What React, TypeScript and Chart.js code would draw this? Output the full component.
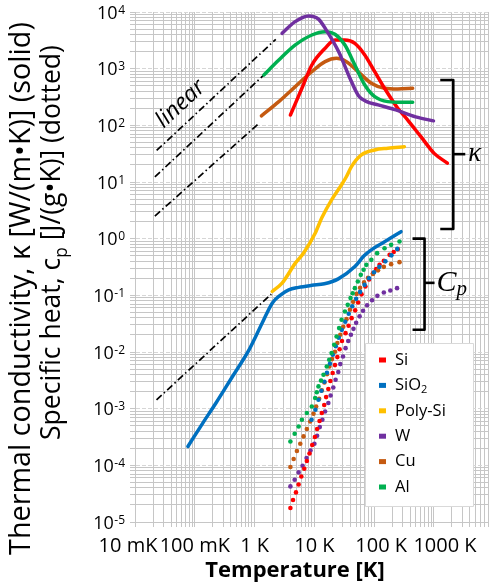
import { useEffect, useRef } from 'react';
import { Chart, registerables } from 'chart.js';

Chart.register(...registerables);

// ---------------- thermal conductivity κ [W/(m·K)] (solid lines) ----------------
const siKT = [3.97, 6.18, 9.06, 15.1, 22.1, 32.4, 47.5, 69.6, 102, 149, 248, 364, 604, 1007, 1675];
const siKV = [152, 451, 1160, 2290, 3200, 3200, 2800, 1750, 885, 451, 200, 124, 63, 32, 21.5];

const sio2KT = [0.0766, 0.136, 0.226, 0.427, 0.807, 1.34, 1.97, 2.74, 3.72, 5.45, 9.06, 14.7, 25.1, 47.5, 67.7, 89.5, 149, 281];
const sio2KV = [2.15e-4, 5.57e-4, 1.26e-3, 3.7e-3, 0.0109, 0.0324, 0.0728, 0.102, 0.125, 0.138, 0.15, 0.16, 0.195, 0.322, 0.498, 0.634, 0.879, 1.33];

const polyKT = [1.97, 2.88, 4.8, 6.6, 10.3, 13.3, 19.4, 28.5, 34.4, 41.7, 61, 102, 169, 320];
const polyKV = [0.117, 0.164, 0.37, 0.56, 1.25, 2.33, 4.83, 8.93, 12.5, 18.7, 30, 36.8, 39.4, 42];

const wKT = [2.88, 4.7, 8.0, 11.7, 16, 25.6, 40.5, 55, 75, 116, 230, 493, 981];
const wKV = [4200, 6700, 8500, 7500, 4700, 1970, 631, 330, 262, 229, 187, 141, 120];

const cuKT = [1.3, 2.54, 4.8, 9.06, 15.1, 23.5, 34.4, 53.8, 89.5, 149, 248, 440];
const cuKV = [147, 262, 482, 885, 1330, 1520, 1330, 885, 553, 451, 438, 451];

const alKT = [1.43, 2.54, 4.8, 9.06, 15.1, 22.1, 32.4, 47.5, 69.6, 102, 169, 281, 440];
const alKV = [775, 1420, 2620, 3930, 4500, 4040, 2620, 1160, 516, 321, 262, 255, 255];

// ---------------- specific heat c_p [J/(g·K)] (dotted) ----------------
const siCT = [3.97, 4.39, 4.92, 5.45, 6.04, 6.77, 7.48, 8.29, 9.2, 10.2, 11.1, 12.2, 13.3, 14.6, 15.7, 17.1, 18.5, 20.2, 22.1, 24.2, 26.4, 28.9, 33.2, 37.3, 41.9, 48.1, 53.8, 61.5, 71.3, 82, 95.5, 108, 123, 145, 181, 212, 248];
const siCV = [1.77e-5, 2.44e-5, 3.33e-5, 4.6e-5, 6.37e-5, 8.71e-5, 1.19e-4, 1.62e-4, 2.28e-4, 3.16e-4, 4.37e-4, 6.04e-4, 8.36e-4, 1.16e-3, 1.6e-3, 2.22e-3, 3.07e-3, 4.25e-3, 5.87e-3, 8.13e-3, 0.0112, 0.0156, 0.0215, 0.029, 0.0396, 0.0543, 0.0746, 0.104, 0.143, 0.191, 0.246, 0.29, 0.345, 0.406, 0.518, 0.58, 0.653];

const sio2CT = [8.96, 10.4, 11.7, 13.1, 14.7, 16.2, 18.2, 20.3, 22.8, 25.6, 28.7, 32.8, 37.5, 42.9, 49.9, 58.1, 69, 82, 99.3, 122, 154, 194, 243];
const sio2CV = [6.37e-4, 9.57e-4, 1.44e-3, 2.07e-3, 2.98e-3, 4.3e-3, 6.19e-3, 8.93e-3, 0.0126, 0.0178, 0.0246, 0.0341, 0.0472, 0.064, 0.0867, 0.115, 0.153, 0.2, 0.255, 0.318, 0.398, 0.508, 0.66];

const wCT = [3.97, 4.68, 5.45, 6.35, 7.4, 8.61, 10.0, 11.1, 12.3, 13.6, 15.1, 17.1, 18.7, 20.7, 22.6, 25.1, 27.1, 30.1, 33.2, 36.8, 40.8, 45, 49.9, 57, 65.2, 76, 92, 113, 145, 186, 241];
const wCV = [4.25e-5, 5.57e-5, 7.5e-5, 9.84e-5, 1.35e-4, 1.83e-4, 2.4e-4, 3.33e-4, 4.73e-4, 6.37e-4, 8.93e-4, 1.26e-3, 1.71e-3, 2.37e-3, 3.24e-3, 4.43e-3, 6.12e-3, 8.34e-3, 0.0117, 0.0156, 0.0201, 0.0256, 0.0327, 0.0426, 0.0533, 0.0667, 0.0817, 0.098, 0.112, 0.122, 0.134];

const cuCT = [3.97, 4.5, 5.1, 5.81, 6.59, 7.48, 8.51, 9.66, 10.7, 12.0, 13.3, 14.7, 16.3, 17.8, 19.7, 22.1, 24.2, 27.1, 30.4, 34.4, 39.3, 44.5, 50.8, 58.1, 67.7, 78.9, 95.5, 116, 145, 192, 265];
const cuCV = [9.33e-5, 1.29e-4, 1.79e-4, 2.4e-4, 3.24e-4, 4.37e-4, 5.94e-4, 8.13e-4, 1.09e-3, 1.5e-3, 2.1e-3, 2.9e-3, 4.07e-3, 5.55e-3, 7.5e-3, 0.0101, 0.0144, 0.0201, 0.0278, 0.038, 0.0555, 0.0767, 0.106, 0.136, 0.169, 0.204, 0.239, 0.276, 0.318, 0.355, 0.385];

const alCT = [3.97, 4.68, 5.45, 6.18, 7.48, 9.06, 10.3, 10.97, 11.7, 12.9, 14.2, 16.1, 17.7, 19.4, 21.4, 23.5, 25.9, 28.5, 32.4, 36.1, 40.2, 43.7, 47.5, 53.2, 59.7, 66.5, 73.9, 89.5, 112, 149, 192, 265];
const alCV = [2.64e-4, 3.6e-4, 4.85e-4, 6.37e-4, 8.36e-4, 1.09e-3, 1.54e-3, 1.95e-3, 2.47e-3, 3.13e-3, 3.97e-3, 5.55e-3, 7.28e-3, 9.57e-3, 0.0134, 0.0188, 0.0264, 0.037, 0.0518, 0.0679, 0.0893, 0.109, 0.134, 0.175, 0.23, 0.282, 0.345, 0.423, 0.555, 0.679, 0.778, 0.889];

// ---------------- "linear" guide lines (dash-dot) ----------------
const lin1T = [0.023, 2.26];
const lin1V = [36, 3300];
const lin2T = [0.0215, 1.43];
const lin2V = [12.3, 775];
const lin3T = [0.0215, 1.2];
const lin3V = [2.5, 110];
const lin4T = [0.0229, 1.9];
const lin4V = [1.43e-3, 0.105];

// ---------------- axes / labels ----------------
const xTickValues = [0.01, 0.1, 1, 10, 100, 1000];
const xTickLabels = ['10 mK', '100 mK', '1 K', '10 K', '100 K', '1000 K'];
const xLabelShift = [-7, 0, 0, 0, 7, 11];
const yTickExponents = [-5, -4, -3, -2, -1, 0, 1, 2, 3, 4];

const legendNames = ['Si', 'SiO2', 'Poly-Si', 'W', 'Cu', 'Al'];
const RED = '#ff0000';
const BLUE = '#0070c0';
const YELLOW = '#ffc000';
const PURPLE = '#7030a0';
const BROWN = '#c55a11';
const GREEN = '#00b050';
const legendColors = [RED, BLUE, YELLOW, PURPLE, BROWN, GREEN];

const GRID = '#c6c6c6';
const GRID_MAJOR = '#d6d6d6';
const FONT = '"Open Sans", "DejaVu Sans", sans-serif';
const SERIF = '"Liberation Serif", "DejaVu Serif", serif';

const pts = (T: number[], V: number[]) => T.map((t, i) => ({ x: t, y: V[i] }));

const isDecade = (v: number) => {
  const l = Math.log10(v);
  return Math.abs(l - Math.round(l)) < 1e-9;
};

const xGrid: number[] = [];
for (let e = -2; e <= 3; e++) for (let m = 1; m <= 9; m++) if (m * 10 ** e <= 8000) xGrid.push(m * 10 ** e);
const yGrid: number[] = [];
for (let e = -5; e <= 3; e++) for (let m = 1; m <= 9; m++) yGrid.push(m * 10 ** e);
yGrid.push(1e4);

const solid = (T: number[], V: number[], color: string) => ({
  data: pts(T, V),
  borderColor: color,
  backgroundColor: color,
  borderWidth: 3.5,
  pointRadius: 0,
  cubicInterpolationMode: 'monotone',
  borderCapStyle: 'round',
  borderJoinStyle: 'round',
});
const dotted = (T: number[], V: number[], color: string) => ({
  data: pts(T, V),
  showLine: false,
  borderColor: color,
  backgroundColor: color,
  pointBackgroundColor: color,
  pointBorderWidth: 0,
  pointRadius: 2.3,
});
const dashdot = (T: number[], V: number[]) => ({
  data: pts(T, V),
  borderColor: '#000',
  borderWidth: 1.7,
  borderDash: [7, 3, 1.5, 3],
  pointRadius: 0,
});

type Seg = { t: string; size: number; dy?: number; style?: string; family?: string };
const segFont = (s: Seg) => `${s.style || ''} ${s.size}px ${s.family || FONT}`;
function richWidth(ctx: CanvasRenderingContext2D, segs: Seg[]) {
  let w = 0;
  for (const s of segs) {
    ctx.font = segFont(s);
    w += ctx.measureText(s.t).width;
  }
  return w;
}
function drawRich(ctx: CanvasRenderingContext2D, segs: Seg[], x: number, y: number, align: 'left' | 'center' | 'right') {
  const w = richWidth(ctx, segs);
  let cx = align === 'center' ? x - w / 2 : align === 'right' ? x - w : x;
  ctx.textAlign = 'left';
  for (const s of segs) {
    ctx.font = segFont(s);
    ctx.fillText(s.t, cx, y + (s.dy || 0));
    cx += ctx.measureText(s.t).width;
  }
}
// scale a rich text so that it spans the requested length
function fitSegs(ctx: CanvasRenderingContext2D, segs: Seg[], target: number): Seg[] {
  const w = richWidth(ctx, segs);
  const f = target / w;
  return segs.map((s) => ({ ...s, size: s.size * f, dy: (s.dy || 0) * f }));
}

const decor = {
  id: 'decor',
  afterDatasetsDraw(chart: any) {
    const { ctx, chartArea, scales } = chart;
    const x = scales.x;
    const y = scales.y;
    ctx.save();
    ctx.fillStyle = '#000';
    ctx.strokeStyle = '#000';

    // brackets
    const bracket = (xv: number, top: number, bot: number, mid: number, hook: number, tip: number) => {
      const px = x.getPixelForValue(xv);
      const t = y.getPixelForValue(top);
      const b = y.getPixelForValue(bot);
      const m = y.getPixelForValue(mid);
      ctx.lineWidth = 2.6;
      ctx.lineJoin = 'round';
      ctx.lineCap = 'butt';
      ctx.beginPath();
      ctx.moveTo(px - hook, t);
      ctx.lineTo(px, t);
      ctx.lineTo(px, b);
      ctx.lineTo(px - hook, b);
      ctx.stroke();
      ctx.beginPath();
      ctx.moveTo(px, m);
      ctx.lineTo(px + tip, m);
      ctx.stroke();
      return { px, m };
    };
    const k = bracket(2100, 630, 1.48, 31, 13, 12);
    ctx.textBaseline = 'middle';
    drawRich(ctx, [{ t: 'κ', size: 27, style: 'italic', family: SERIF }], k.px + 15, k.m, 'left');
    const c = bracket(695, 1.0, 0.0247, 0.166, 12, 10);
    drawRich(ctx, [
      { t: 'C', size: 30, style: 'italic', family: SERIF },
      { t: 'p', size: 21, style: 'italic', family: SERIF, dy: 7 },
    ], c.px + 12, c.m, 'left');

    // "linear" label, rotated along guide lines
    const ax = x.getPixelForValue(lin1T[0]);
    const ay = y.getPixelForValue(lin1V[0]);
    const bx = x.getPixelForValue(lin1T[1]);
    const by = y.getPixelForValue(lin1V[1]);
    const ang = Math.atan2(by - ay, bx - ax);
    ctx.save();
    ctx.translate(x.getPixelForValue(0.058), y.getPixelForValue(238));
    ctx.rotate(ang);
    ctx.font = `italic 23px ${FONT}`;
    ctx.textAlign = 'center';
    ctx.textBaseline = 'middle';
    ctx.fillText('linear', 0, 0);
    ctx.restore();

    // legend box
    const lw = 109;
    const lh = 164;
    const lx = chartArea.right - 14 - lw;
    const ly = chartArea.bottom - 15 - lh;
    ctx.fillStyle = '#fff';
    ctx.fillRect(lx, ly, lw, lh);
    ctx.strokeStyle = '#d9d9d9';
    ctx.lineWidth = 1;
    ctx.strokeRect(lx + 0.5, ly + 0.5, lw - 1, lh - 1);
    legendNames.forEach((name, i) => {
      const ry = ly + 17 + i * 25.4;
      ctx.fillStyle = legendColors[i];
      ctx.fillRect(lx + 14, ry - 2.5, 7, 5);
      ctx.fillStyle = '#000';
      ctx.textBaseline = 'middle';
      if (name === 'SiO2') {
        drawRich(ctx, [{ t: 'SiO', size: 16.5 }, { t: '2', size: 11, dy: 4 }], lx + 30, ry, 'left');
      } else {
        drawRich(ctx, [{ t: name, size: 16.5 }], lx + 30, ry, 'left');
      }
    });
    ctx.restore();
  },
  afterDraw(chart: any) {
    const { ctx, chartArea, scales } = chart;
    const x = scales.x;
    const y = scales.y;
    ctx.save();
    ctx.fillStyle = '#000';

    // y tick labels 10^n
    for (const e of yTickExponents) {
      const py = y.getPixelForValue(10 ** e);
      const ex = e < 0 ? '-' + Math.abs(e) : String(e);
      ctx.font = `12px ${FONT}`;
      const ew = ctx.measureText(ex).width;
      const right = chartArea.left - 10;
      ctx.textAlign = 'left';
      ctx.textBaseline = 'alphabetic';
      ctx.fillText(ex, right - ew, py + 1.5);
      ctx.font = `18px ${FONT}`;
      ctx.textAlign = 'right';
      ctx.fillText('10', right - ew - 0.5, py + 6.5);
    }

    // x tick labels
    ctx.font = `20px ${FONT}`;
    ctx.textAlign = 'center';
    ctx.textBaseline = 'alphabetic';
    xTickValues.forEach((v, i) => {
      ctx.fillText(xTickLabels[i], x.getPixelForValue(v) + xLabelShift[i], 552);
    });

    // x title
    ctx.font = `bold 22px ${FONT}`;
    ctx.textBaseline = 'middle';
    ctx.fillText('Temperature [K]', 295, 571);

    // y titles (two lines, rotated)
    ctx.textBaseline = 'alphabetic';
    const line1 = fitSegs(ctx, [{ t: 'Thermal conductivity, κ [W/(m•K)] (solid)', size: 20 }], 533);
    const line2 = fitSegs(ctx, [
      { t: 'Specific heat, c', size: 20 },
      { t: 'p', size: 13, dy: 5 },
      { t: ' [J/(g•K)] (dotted)', size: 20 },
    ], 395);
    ctx.save();
    ctx.translate(30, 288.5);
    ctx.rotate(-Math.PI / 2);
    drawRich(ctx, line1, 0, 0, 'center');
    ctx.restore();
    ctx.save();
    ctx.translate(60, 242.5);
    ctx.rotate(-Math.PI / 2);
    drawRich(ctx, line2, 0, 0, 'center');
    ctx.restore();
    ctx.restore();
  },
};

export default function App() {
  const ref = useRef<HTMLCanvasElement>(null);
  useEffect(() => {
    const canvas = ref.current;
    if (!canvas) return;
    const datasets: any[] = [
      solid(wKT, wKV, PURPLE),
      solid(alKT, alKV, GREEN),
      solid(siKT, siKV, RED),
      solid(cuKT, cuKV, BROWN),
      solid(polyKT, polyKV, YELLOW),
      solid(sio2KT, sio2KV, BLUE),
      dotted(alCT, alCV, GREEN),
      dotted(sio2CT, sio2CV, BLUE),
      dotted(cuCT, cuCV, BROWN),
      dotted(siCT, siCV, RED),
      dotted(wCT, wCV, PURPLE),
      dashdot(lin1T, lin1V),
      dashdot(lin2T, lin2V),
      dashdot(lin3T, lin3V),
      dashdot(lin4T, lin4V),
    ];
    const chart = new Chart(canvas, {
      type: 'line',
      data: { datasets },
      options: {
        animation: false,
        responsive: true,
        maintainAspectRatio: false,
        events: [],
        layout: { padding: { top: 12, right: 1, left: 0, bottom: 0 } },
        plugins: { legend: { display: false }, tooltip: { enabled: false }, title: { display: false } },
        scales: {
          x: {
            type: 'logarithmic',
            min: 0.01,
            max: 8000,
            afterBuildTicks: (s: any) => {
              s.ticks = xGrid.map((v) => ({ value: v }));
            },
            afterFit: (s: any) => {
              s.height = 61;
            },
            ticks: { display: false },
            grid: { color: GRID, lineWidth: 1, drawTicks: true, tickLength: 5, tickColor: GRID },
            border: { color: GRID, width: 1 },
          },
          y: {
            type: 'logarithmic',
            min: 1e-5,
            max: 1e4,
            afterBuildTicks: (s: any) => {
              s.ticks = yGrid.map((v) => ({ value: v }));
            },
            afterFit: (s: any) => {
              s.width = 135;
            },
            ticks: { display: false },
            grid: {
              color: (c: any) => (c.tick && isDecade(c.tick.value) ? GRID_MAJOR : GRID),
              lineWidth: 1,
              drawTicks: true,
              tickLength: 5,
              tickColor: GRID,
            },
            border: {
              color: GRID,
              width: 1,
              dash: (c: any) => (c.tick && isDecade(c.tick.value) ? [4, 2] : []),
            },
          },
        },
      } as any,
      plugins: [decor],
    });
    return () => chart.destroy();
  }, []);
  return (
    <div style={{ position: 'fixed', left: 0, top: 0, width: 492, height: 583, background: '#fff' }}>
      <canvas ref={ref} />
    </div>
  );
}
